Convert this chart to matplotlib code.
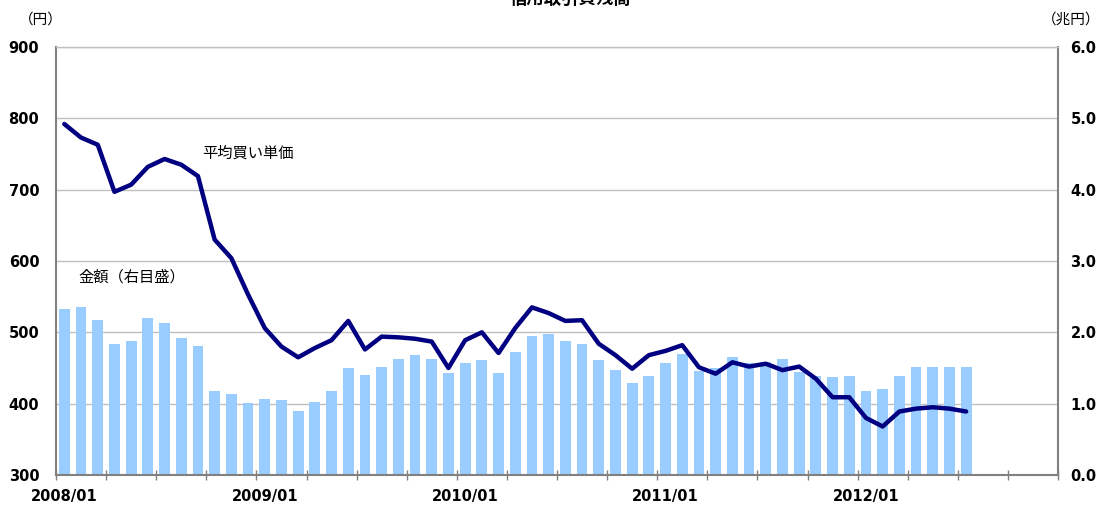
import matplotlib
matplotlib.use("Agg")
import matplotlib.pyplot as plt
import numpy as np

plt.rcParams['font.family'] = ['DejaVu Sans', 'Noto Sans CJK JP']

# ---- data ----
months = [f"{y}/{m:02d}" for y in range(2008, 2013) for m in range(1, 13)]  # 60 categories
year_labels = ["2008/01", "2009/01", "2010/01", "2011/01", "2012/01"]

amount = [2.33, 2.36, 2.17, 1.84, 1.88, 2.20, 2.13, 1.92, 1.81, 1.18,
          1.14, 1.01, 1.07, 1.05, 0.90, 1.02, 1.18, 1.50, 1.40, 1.51,
          1.63, 1.68, 1.63, 1.43, 1.57, 1.61, 1.43, 1.72, 1.95, 1.98,
          1.88, 1.84, 1.61, 1.47, 1.29, 1.39, 1.57, 1.70, 1.46, 1.50,
          1.65, 1.57, 1.59, 1.62, 1.44, 1.39, 1.37, 1.39, 1.18, 1.21,
          1.39, 1.52, 1.52, 1.51, 1.51]

avg_price = [792, 773, 763, 697, 707, 732, 743, 735, 719, 630,
             604, 553, 506, 480, 465, 478, 489, 516, 476, 494,
             493, 491, 487, 450, 489, 500, 471, 506, 535, 527,
             516, 517, 484, 468, 449, 468, 474, 482, 451, 442,
             458, 452, 456, 447, 452, 435, 409, 409, 380, 368,
             389, 393, 395, 393, 389]

left_ticks = [300, 400, 500, 600, 700, 800, 900]
right_ticks = [0.0, 1.0, 2.0, 3.0, 4.0, 5.0, 6.0]

W, H = 1101, 508
fig = plt.figure(figsize=(W / 100, H / 100), dpi=100)
L, R, B, T = 56, 1058, 475, 47
axb = fig.add_axes([L / W, (H - B) / H, (R - L) / W, (B - T) / H])
axl = axb.twinx()

x_bar = np.arange(len(amount))
x_line = np.arange(len(avg_price))

# bars (right scale)
axb.bar(x_bar, amount, width=0.65, color="#99CCFF", zorder=2)
axb.set_xlim(-0.5, len(months) - 0.5)
axb.set_ylim(0, 6)
axb.yaxis.set_ticks_position("right")
axb.yaxis.set_label_position("right")
axb.set_yticks(right_ticks)
axb.set_yticklabels([f"{v:.1f}" for v in right_ticks], fontweight="bold", fontsize=10.5)
axb.tick_params(axis="y", length=0, pad=9)
axb.set_axisbelow(True)
axb.grid(axis="y", color="#C0C0C0", linewidth=1)

# x ticks: boundaries every 3 months, year labels at January
axb.set_xticks(np.arange(-0.5, len(months), 3))
axb.set_xticklabels([])
axb.tick_params(axis="x", which="major", direction="inout", length=7, color="#808080", width=1)
axb.set_xticks([months.index(l) for l in year_labels], minor=True)
axb.set_xticklabels(year_labels, minor=True, fontweight="bold", fontsize=10.5)
axb.tick_params(axis="x", which="minor", length=0, pad=10)

for s in ["left", "right", "bottom"]:
    axb.spines[s].set_color("#808080")
    axb.spines[s].set_linewidth(1.5)
axb.spines["top"].set_color("#C0C0C0")
axb.spines["top"].set_linewidth(1)

# line (left scale)
axl.plot(x_line, avg_price, color="#000080", linewidth=3.2, solid_joinstyle="round",
         solid_capstyle="round", zorder=3)
axl.set_ylim(300, 900)
axl.yaxis.set_ticks_position("left")
axl.yaxis.set_label_position("left")
axl.set_yticks(left_ticks)
axl.set_yticklabels([str(v) for v in left_ticks], fontweight="bold", fontsize=10.5)
axl.tick_params(axis="y", length=0, pad=12)
for s in axl.spines.values():
    s.set_visible(False)

axl.text(8.24, 751, "平均買い単価", fontsize=11, va="center", ha="left",
         family=["Noto Sans CJK JP"])
axl.text(0.82, 577, "金額（右目盛）", fontsize=11, va="center", ha="left",
         family=["Noto Sans CJK JP"])

fig.text(41 / W, 1 - 20 / H, "（円）", fontsize=10.5, va="center", ha="center",
         family=["Noto Sans CJK JP"])
fig.text(1071 / W, 1 - 20 / H, "（兆円）", fontsize=10.5, va="center", ha="center",
         family=["Noto Sans CJK JP"])
fig.text(571 / W, 1 + 1 / H, "信用取引買残高", fontsize=12.5, fontweight="bold",
         va="center", ha="center", family=["Noto Sans CJK JP"])

fig.savefig("out.png", dpi=100)
